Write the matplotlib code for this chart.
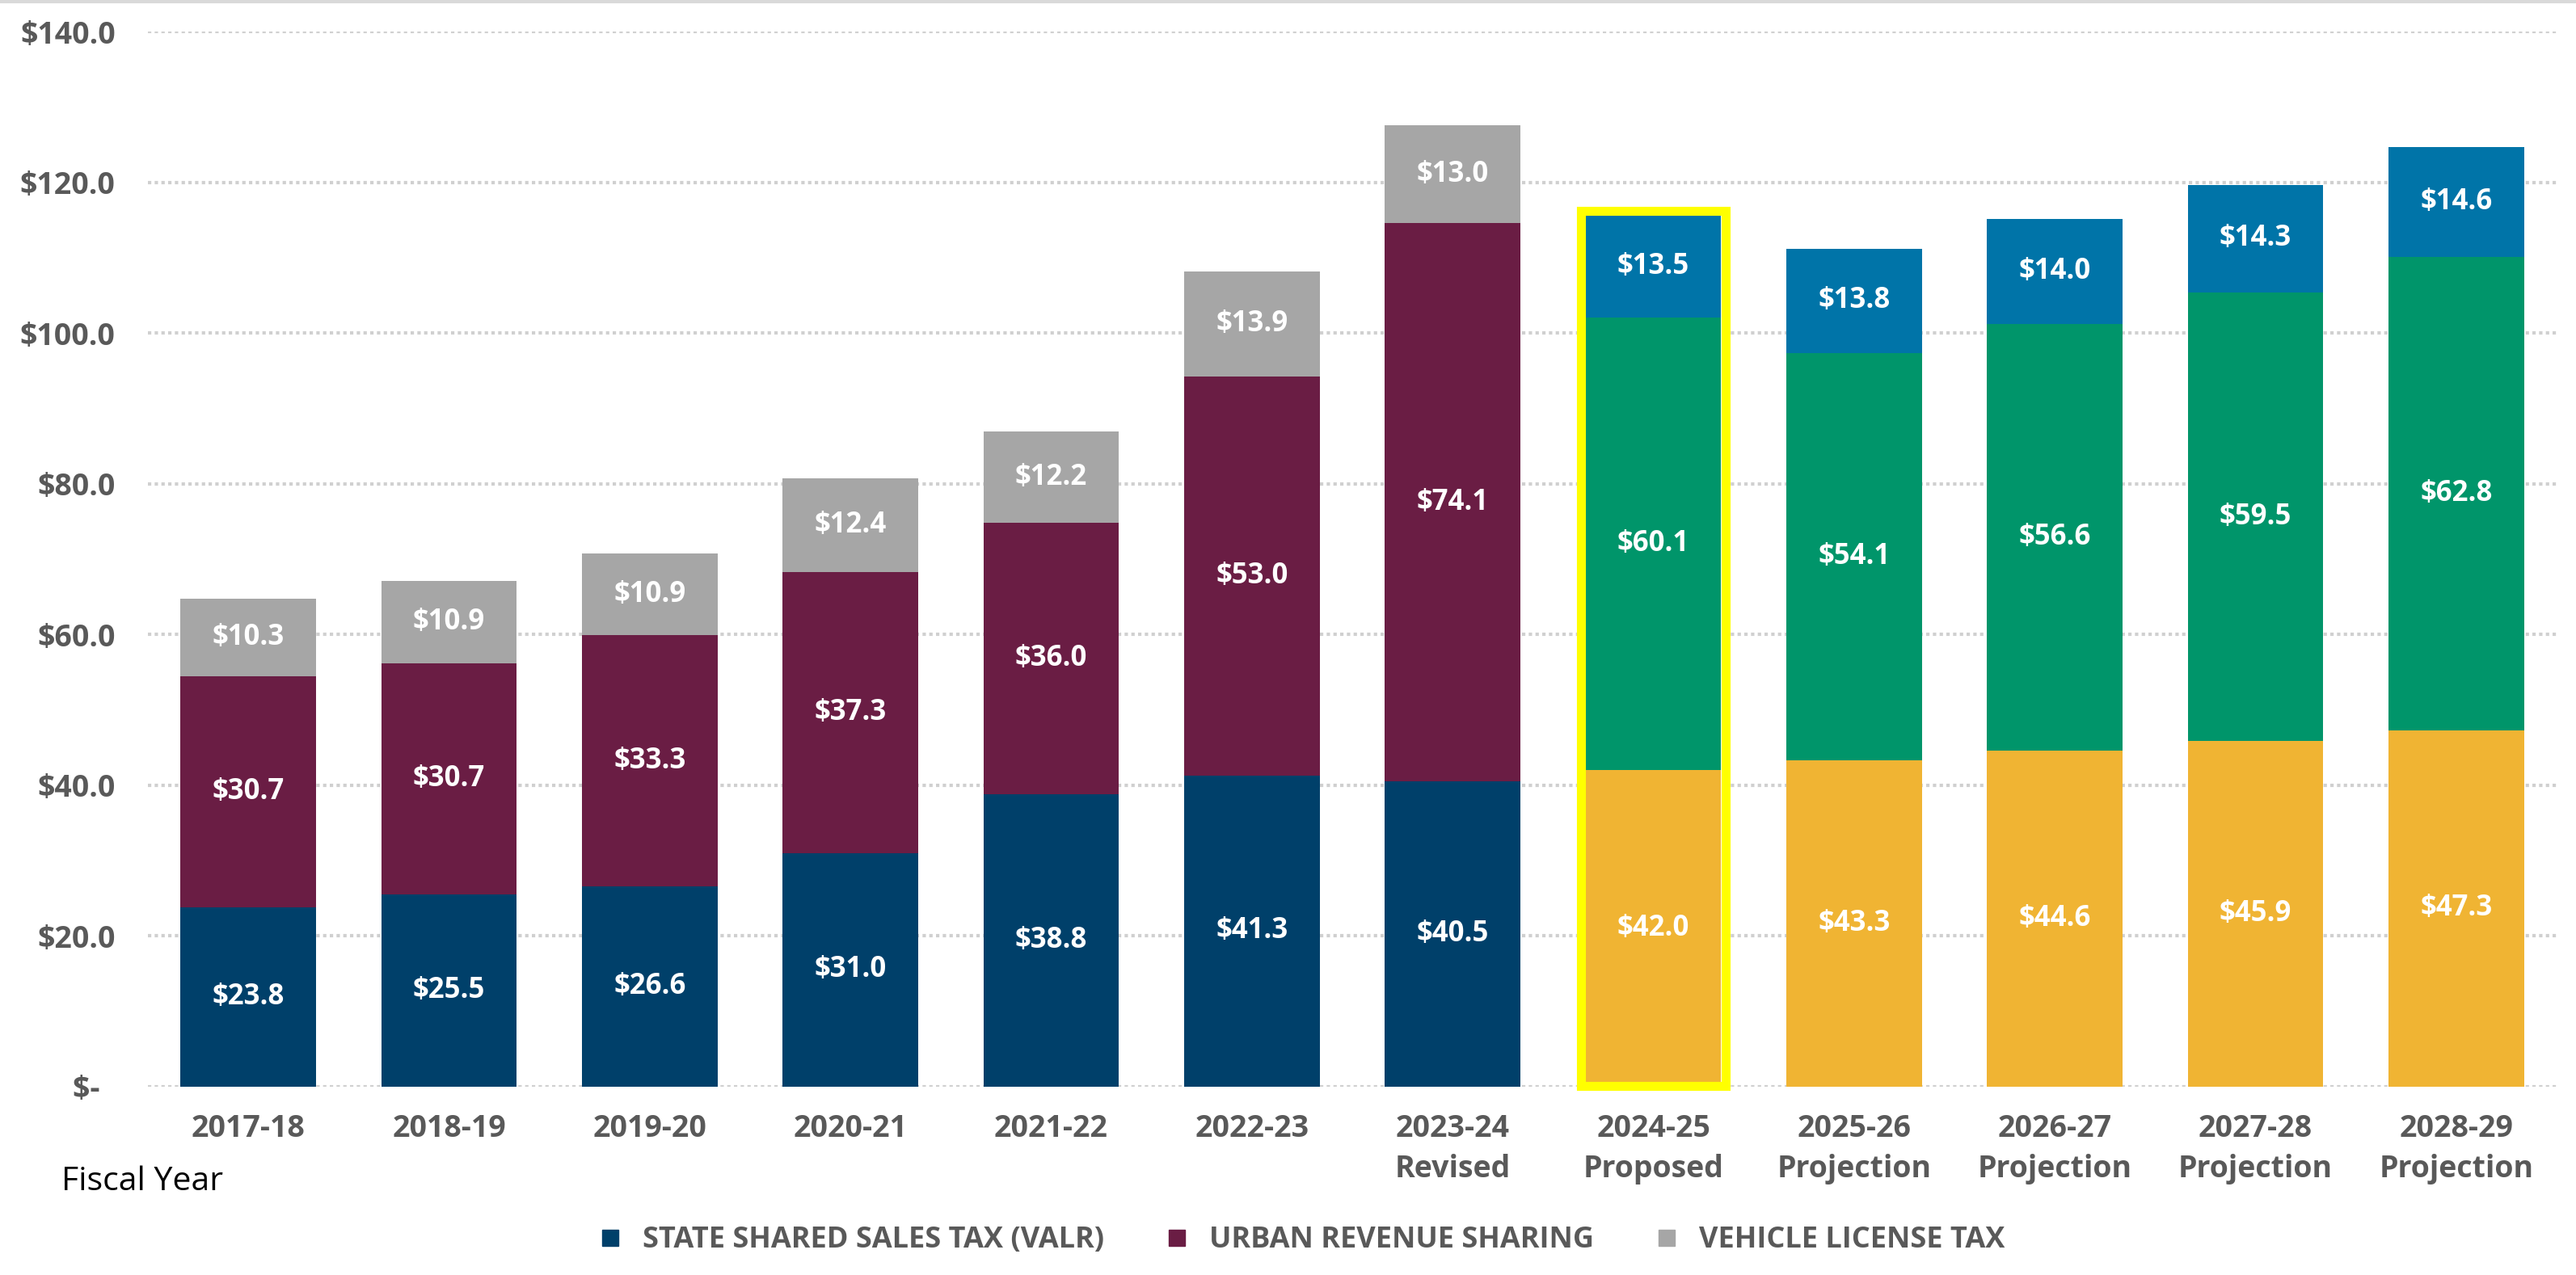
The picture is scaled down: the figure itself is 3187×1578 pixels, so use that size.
import numpy as np
import matplotlib.pyplot as plt
from matplotlib.lines import Line2D
from matplotlib.patches import Rectangle

# data ($ millions)
years = ["2017-18", "2018-19", "2019-20", "2020-21", "2021-22", "2022-23",
         "2023-24\nRevised", "2024-25\nProposed", "2025-26\nProjection",
         "2026-27\nProjection", "2027-28\nProjection", "2028-29\nProjection"]
sales_tax = [23.8, 25.5, 26.6, 31.0, 38.8, 41.3, 40.5, 42.0, 43.3, 44.6, 45.9, 47.3]
urban_rev = [30.7, 30.7, 33.3, 37.3, 36.0, 53.0, 74.1, 60.1, 54.1, 56.6, 59.5, 62.8]
vehicle_tax = [10.3, 10.9, 10.9, 12.4, 12.2, 13.9, 13.0, 13.5, 13.8, 14.0, 14.3, 14.6]
n_actual = 7          # first 7 years are actual/revised, rest proposed/projected
highlight = 7         # 2024-25 proposed gets the yellow box

legend_labels = ["STATE SHARED SALES TAX (VALR)", "URBAN REVENUE SHARING", "VEHICLE LICENSE TAX"]
hist_colors = ["#00406A", "#6A1D44", "#A6A6A6"]
proj_colors = ["#F0B433", "#00956A", "#0074A8"]

plt.rcParams['font.family'] = ['Open Sans', 'DejaVu Sans']

fig = plt.figure(figsize=(31.87, 15.78), dpi=100)
ax = fig.add_axes([0.0574, 0.1477, 0.9351, 0.8273])

x = np.arange(len(years))
width = 0.675
series = [sales_tax, urban_rev, vehicle_tax]
bottom = np.zeros(len(years))
for i, vals in enumerate(series):
    vals = np.array(vals)
    cols = [hist_colors[i] if k < n_actual else proj_colors[i] for k in range(len(years))]
    ax.bar(x, vals, width, bottom=bottom, color=cols, zorder=3)
    for k in range(len(years)):
        ax.text(x[k], bottom[k] + vals[k] / 2, f"${vals[k]:.1f}", ha='center', va='center',
                color='white', fontsize=25, fontweight='bold', zorder=4)
    bottom = bottom + vals

# yellow outline around the proposed year
pad_x = 0.022
total = bottom[highlight]
ax.add_patch(Rectangle((x[highlight] - width / 2 - pad_x, 0.1),
                       width + 2 * pad_x, total + 0.5,
                       fill=False, edgecolor='#FFFF00', linewidth=8, zorder=5,
                       clip_on=False))

ax.set_xlim(-0.5, len(years) - 0.5)
ax.set_ylim(0, 140)
ax.set_yticks(np.arange(0, 141, 20))
ax.set_yticklabels(["$-  "] + [f"${v:.1f}" for v in np.arange(20, 141, 20)])
ax.set_xticks(x)
ax.set_xticklabels(years)
ax.tick_params(axis='both', length=0, labelsize=27, labelcolor='#595959')
ax.tick_params(axis='y', pad=29)
ax.tick_params(axis='x', pad=24)
for lab in ax.get_xticklabels() + ax.get_yticklabels():
    lab.set_fontweight('bold')
for lab in ax.get_xticklabels():
    lab.set_linespacing(1.4)

ax.yaxis.grid(True, color='#D0D0D0', linestyle=(0, (1, 1)), linewidth=3, zorder=0)
for s in ax.spines.values():
    s.set_visible(False)

fig.text(0.024, 0.073, "Fiscal Year", fontsize=29.5, color='black', ha='left', va='center')

handles = [Line2D([], [], marker='s', linestyle='none', markersize=15, color=c) for c in hist_colors]
fig.legend(handles, legend_labels, loc='center', bbox_to_anchor=(0.502, 0.027), ncol=3,
           frameon=False, handletextpad=0.1, columnspacing=1.5,
           prop={'size': 26, 'weight': 'bold'}, labelcolor='#595959')

# thin border line at the top edge
fig.add_artist(Line2D([0, 1], [0.999, 0.999], color='#D9D9D9', linewidth=3,
                      transform=fig.transFigure))

fig.savefig("out.png", dpi=100)
